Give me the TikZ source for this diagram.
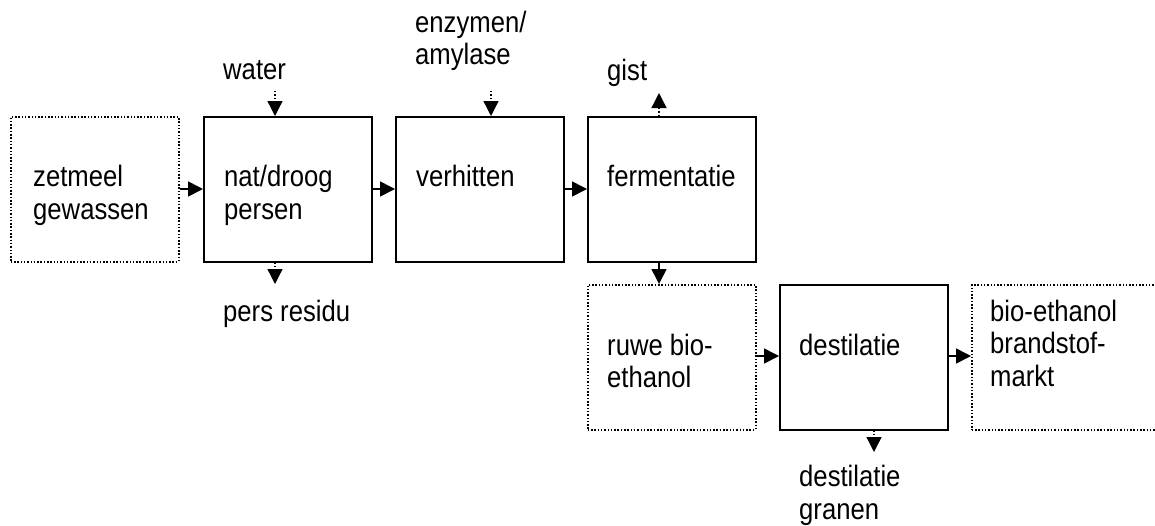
\documentclass[tikz,border=0pt]{standalone}
\usepackage{fontspec}
\setmainfont[FakeStretch=0.87]{Liberation Sans}
\usetikzlibrary{arrows.meta}
\begin{document}
\begin{tikzpicture}[x=1pt,y=-1pt,
  solidbox/.style={draw, line width=1.6pt, minimum width=168pt, minimum height=145pt, anchor=north west, inner sep=0pt},
  dotbox/.style={draw, line width=1.5pt, dash pattern=on 1.5pt off 1.8pt, minimum width=168pt, minimum height=145pt, anchor=north west, inner sep=0pt},
  txt/.style={font=\fontsize{29.5}{32.5}\selectfont, align=left, anchor=base west, inner sep=0pt},
  flow/.style={line width=1.6pt, -{Triangle[length=15pt,width=15pt]}},
  side/.style={line width=1.3pt, dash pattern=on 1.3pt off 2pt, -{Triangle[length=15pt,width=15pt]}}
]
\useasboundingbox (0,0) rectangle (1155,525);
% boxes
\node[dotbox]   (zet)  at (10,116)  {};
\node[solidbox] (nat)  at (203,116) {};
\node[solidbox] (verh) at (395,116) {};
\node[solidbox] (ferm) at (587,116) {};
\node[dotbox]   (ruwe) at (587,284) {};
\node[solidbox] (dest) at (779,284) {};
\node[dotbox, minimum width=200pt] (markt) at (971,284) {};
% texts (anchor = baseline of the last line)
\node[txt] (tzet)  at (33,219)    {zetmeel\\gewassen};
\node[txt] (tnat)  at (224,219)   {nat/droog\\persen};
\node[txt] (tverh) at (416,186.5) {verhitten};
\node[txt] (tferm) at (607,186.5) {fermentatie};
\node[txt] (truwe) at (607,387.5) {ruwe bio-\\ethanol};
\node[txt] (tdest) at (799,355)   {destilatie};
\node[txt] (tmarkt) at (990,386)  {bio-ethanol\\brandstof-\\markt};
\node[txt] (water) at (223,79)    {water};
\node[txt] (enz)   at (415,64.5)  {enzymen/\\amylase};
\node[txt] (gist)  at (607,80)    {gist};
\node[txt] (pers)  at (223,321)   {pers residu};
\node[txt] (gran)  at (799,519)   {destilatie\\granen};
% free ends
\coordinate (cwater) at (275,91);
\coordinate (cenz)   at (491,91);
\coordinate (cgist)  at (659,93);
\coordinate (cpers)  at (275,284);
\coordinate (cgran)  at (874,452);
\coordinate (cferm)  at (659,0);
% main flow
\draw[flow] ([yshift=-73pt]zet.north east) -- ([yshift=-73pt]nat.north west);
\draw[flow] ([yshift=-73pt]nat.north east) -- ([yshift=-73pt]verh.north west);
\draw[flow] ([yshift=-73pt]verh.north east) -- ([yshift=-73pt]ferm.north west);
\draw[flow] (ferm.south -| cferm) -- (ruwe.north -| cferm);
\draw[flow] ([yshift=-72pt]ruwe.north east) -- ([yshift=-72pt]dest.north west);
\draw[flow] ([yshift=-72pt]dest.north east) -- ([yshift=-72pt]markt.north west);
% side streams
\draw[side] (cwater) -- (cwater |- nat.north);
\draw[side] (cenz) -- (cenz |- verh.north);
\draw[side] (cgist |- ferm.north) -- (cgist);
\draw[side] (cpers |- nat.south) -- (cpers);
\draw[side] (cgran |- dest.south) -- (cgran);
\end{tikzpicture}
\end{document}
